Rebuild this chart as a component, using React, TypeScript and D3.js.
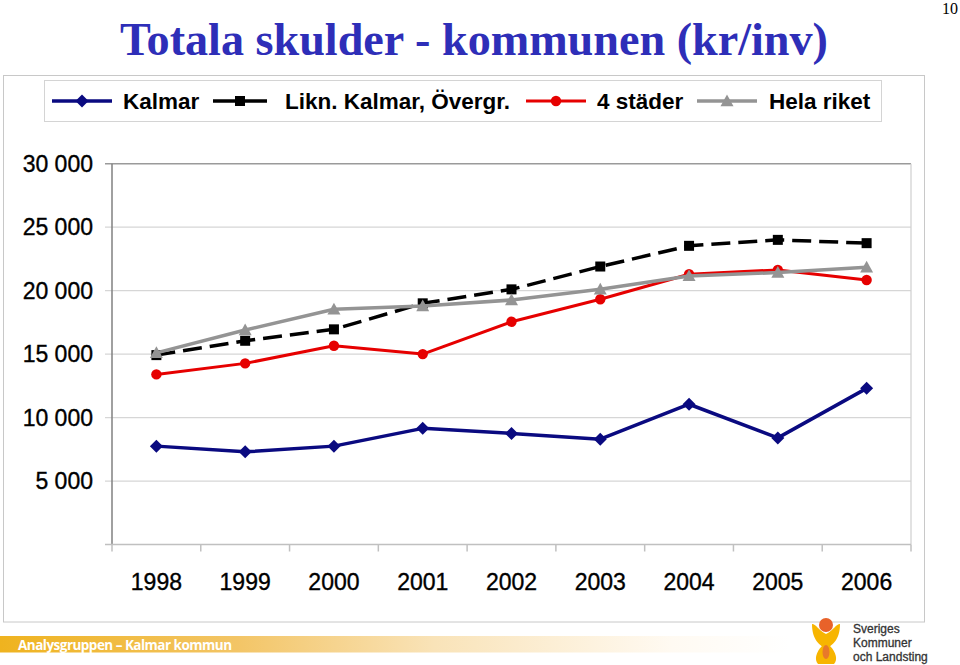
import * as d3 from "d3";

const years = ["1998", "1999", "2000", "2001", "2002", "2003", "2004", "2005", "2006"];
const kalmar = [7750, 7300, 7750, 9150, 8750, 8300, 11050, 8400, 12300];
const liknKalmar = [14920, 16050, 16950, 19000, 20100, 21900, 23530, 24000, 23740];
const fyraStader = [13400, 14270, 15660, 15000, 17550, 19320, 21290, 21630, 20840];
const helaRiket = [15100, 16900, 18530, 18790, 19260, 20110, 21160, 21420, 21840];
const yTicks = [0, 5000, 10000, 15000, 20000, 25000, 30000];
const logoLines = ["Sveriges", "Kommuner", "och Landsting"];

type Marker = "diamond" | "square" | "circle" | "triangle";

const series: { name: string; values: number[]; color: string; width: number; dash?: string; marker: Marker }[] = [
  { name: "Kalmar", values: kalmar, color: "#0a0a80", width: 3.5, marker: "diamond" },
  { name: "Likn. Kalmar, Övergr.", values: liknKalmar, color: "#000000", width: 3.5, dash: "19,8", marker: "square" },
  { name: "4 städer", values: fyraStader, color: "#e60000", width: 3, marker: "circle" },
  { name: "Hela riket", values: helaRiket, color: "#949494", width: 3.5, marker: "triangle" },
];

// legend layout (line start, text start)
const legendPos = [
  { x0: 52, x1: 112, tx: 123 },
  { x0: 213, x1: 267, tx: 285 },
  { x0: 526, x1: 586, tx: 597 },
  { x0: 697, x1: 757, tx: 769 },
];

const fmt = (v: number) => d3.format(",")(v).replace(/,/g, " ");

function MarkerShape({ type, x, y, color }: { type: Marker; x: number; y: number; color: string }) {
  if (type === "diamond") {
    const s = 6.5;
    return <path d={`M${x},${y - s}L${x + s},${y}L${x},${y + s}L${x - s},${y}Z`} fill={color} />;
  }
  if (type === "square") {
    return <rect x={x - 5} y={y - 5} width={10} height={10} fill={color} />;
  }
  if (type === "circle") {
    return <circle cx={x} cy={y} r={5.2} fill={color} />;
  }
  const s = 6.5;
  return <path d={`M${x},${y - s}L${x + s},${y + s * 0.8}L${x - s},${y + s * 0.8}Z`} fill={color} />;
}

export default function App() {
  const W = 960;
  const H = 665;
  const left = 112;
  const right = 911;
  const top = 163.7;
  const bottom = 544.5;

  const x = d3.scaleBand<string>().domain(years).range([left, right]);
  const y = d3.scaleLinear().domain([0, 30000]).range([bottom, top]);
  const cx = (d: string) => (x(d) as number) + x.bandwidth() / 2;

  const line = d3
    .line<number>()
    .x((_, i) => cx(years[i]))
    .y((v) => y(v));

  const boundaries = years.map((d) => x(d) as number).concat([right]);

  return (
    <svg
      width={W}
      height={H}
      style={{ position: "absolute", left: 0, top: 0 }}
      fontFamily="Arial, 'Liberation Sans', sans-serif"
    >
      <defs>
        <linearGradient id="band" x1="0" x2="1" y1="0" y2="0">
          <stop offset="0" stopColor="#efb31f" />
          <stop offset="0.3" stopColor="#f3c566" />
          <stop offset="0.55" stopColor="#f9e3b8" />
          <stop offset="0.85" stopColor="#fffaf2" />
          <stop offset="1" stopColor="#ffffff" />
        </linearGradient>
      </defs>
      <rect width={W} height={H} fill="#fff" />

      <text x={120} y={55} fontFamily="'Liberation Serif', 'Times New Roman', serif" fontWeight="bold" fontSize={46} fill="#2e2eb8" textLength={708} lengthAdjust="spacingAndGlyphs">
        Totala skulder - kommunen (kr/inv)
      </text>
      <text x={958} y={14} textAnchor="end" fontFamily="'Liberation Serif', serif" fontSize={16} fill="#000">
        10
      </text>

      {/* outer frame */}
      <rect x={3.5} y={75.5} width={921} height={546.5} fill="none" stroke="#c8c8c8" strokeWidth={1} />

      {/* legend */}
      <rect x={44.5} y={80.5} width={837} height={41} fill="#fff" stroke="#d4d4d4" strokeWidth={1} />
      {series.map((s, i) => {
        const p = legendPos[i];
        const mid = (p.x0 + p.x1) / 2;
        return (
          <g key={s.name}>
            <line x1={p.x0} x2={p.x1} y1={101} y2={101} stroke={s.color} strokeWidth={s.width} />
            <MarkerShape type={s.marker} x={mid} y={101} color={s.color} />
            <text x={p.tx} y={109} fontSize={22.5} fontWeight="bold" fill="#000">
              {s.name}
            </text>
          </g>
        );
      })}

      {/* grid */}
      {yTicks.map((t) => (
        <g key={t}>
          <line x1={left - 7} x2={right} y1={y(t)} y2={y(t)} stroke={t === 30000 ? "#9a9a9a" : "#d6d6d6"} strokeWidth={t === 30000 ? 1.5 : 1.2} />
          {t > 0 && (
            <text x={93} y={y(t) + 8} textAnchor="end" fontSize={23} fill="#000" stroke="#000" strokeWidth={0.35}>
              {fmt(t)}
            </text>
          )}
        </g>
      ))}
      <line x1={right} x2={right} y1={top} y2={bottom} stroke="#cfcfcf" strokeWidth={1.2} />
      <line x1={left} x2={left} y1={top} y2={bottom} stroke="#808080" strokeWidth={1.5} />
      <line x1={left - 7} x2={right} y1={bottom} y2={bottom} stroke="#c0c0c0" strokeWidth={1.5} />
      {boundaries.map((b, i) => (
        <line key={i} x1={b} x2={b} y1={bottom} y2={bottom + 7} stroke="#c0c0c0" strokeWidth={1.5} />
      ))}
      {years.map((d) => (
        <text key={d} x={cx(d)} y={590} textAnchor="middle" fontSize={23} fill="#000" stroke="#000" strokeWidth={0.35}>
          {d}
        </text>
      ))}

      {/* series */}
      {series.map((s) => (
        <g key={s.name}>
          <path d={line(s.values) as string} fill="none" stroke={s.color} strokeWidth={s.width} strokeDasharray={s.dash} strokeLinejoin="round" />
          {s.values.map((v, i) => (
            <MarkerShape key={i} type={s.marker} x={cx(years[i])} y={y(v)} color={s.color} />
          ))}
        </g>
      ))}

      {/* footer */}
      <rect x={0} y={636} width={790} height={16.5} fill="url(#band)" />
      <text x={18} y={649.5} fontFamily="'Open Sans', 'DejaVu Sans', sans-serif" fontWeight="bold" fontSize={13.5} fill="#fff" textLength={214}>
        Analysgruppen – Kalmar kommun
      </text>

      {/* logo */}
      <g>
        <path d="M812,624 C812,640 820,646 826,648 C832,646 840,640 840,624 C836,624 834,630 826,634 C818,630 816,624 812,624 Z" fill="#f7b500" />
        <path d="M822,646 C816,652 814,660 818,664 L834,664 C838,660 836,652 830,646 Z" fill="#f7b500" />
        <ellipse cx={826} cy={652} rx={3.5} ry={7} fill="#e8792a" />
        <circle cx={826} cy={625} r={7} fill="#e8622a" />
        {logoLines.map((t, i) => (
          <text key={t} x={853} y={633 + i * 14.2} fontFamily="'Liberation Sans', Arial, sans-serif" fontSize={12} fill="#333" stroke="#333" strokeWidth={0.3}>
            {t}
          </text>
        ))}
      </g>
    </svg>
  );
}
